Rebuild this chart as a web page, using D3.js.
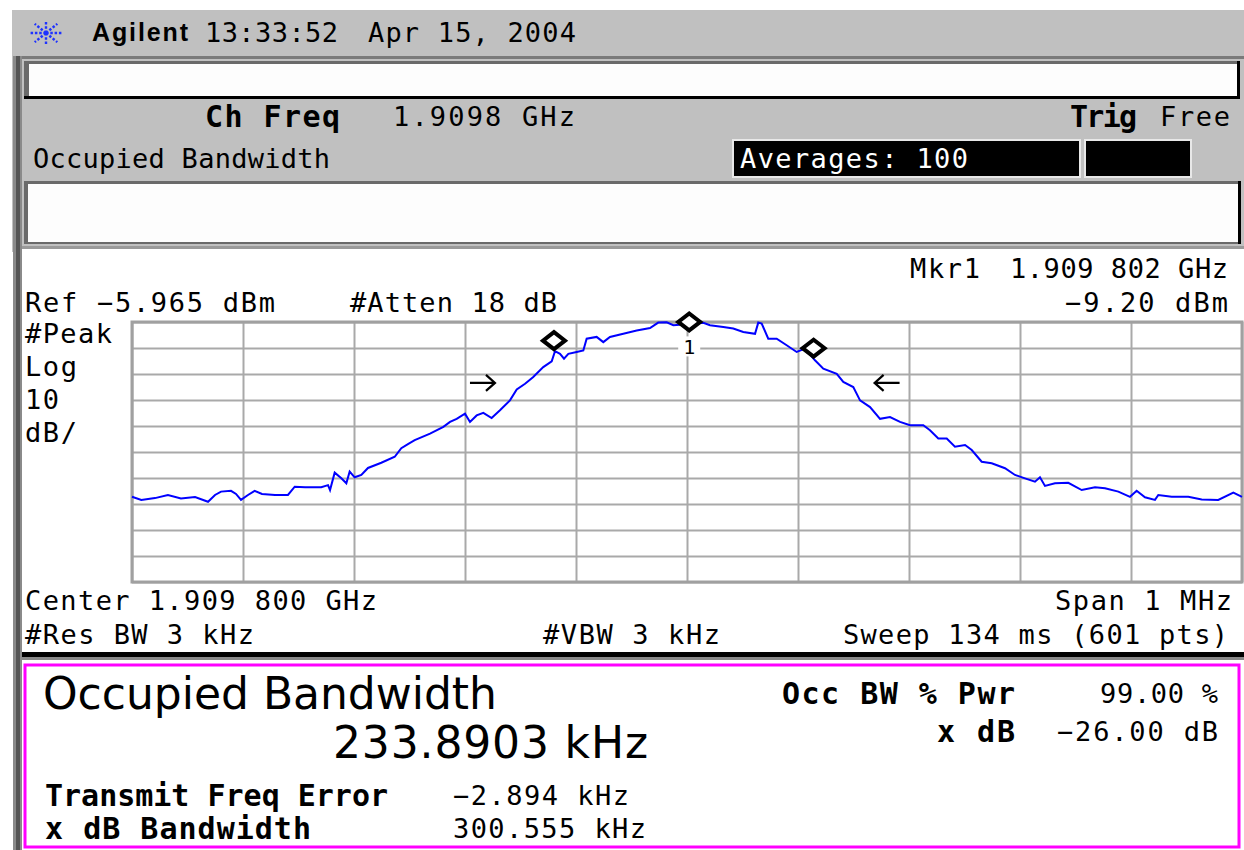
<!DOCTYPE html>
<html><head><meta charset="utf-8">
<script src="https://cdn.jsdelivr.net/npm/d3@7"></script>
<style>html,body{margin:0;padding:0;background:#fff;overflow:hidden}</style>
</head><body><svg id="c" width="1244" height="850"></svg>
<script>
// ---------------- data ----------------
const refLevelDbm = -5.965;
const dbPerDiv = 10;
const xGridKHz = [-500, -400, -300, -200, -100, 0, 100, 200, 300, 400, 500];
const yGridDbm = [-5.965, -15.965, -25.965, -35.965, -45.965, -55.965, -65.965, -75.965, -85.965, -95.965, -105.965];
const traceFreqKHz = [-500,-491.6,-479.3,-467.6,-455.9,-443.2,-431.5,-425.2,-419.8,-410.8,-406.3,-401.8,-395.5,-389.5,-382.9,-371.2,-359.5,-353.4,-344.1,-329.5,-323.4,-321.6,-317.4,-311.4,-306.9,-303.9,-299.4,-293.4,-287.4,-275.4,-263.3,-257.4,-251.4,-245.3,-231.5,-219.5,-213.5,-207.5,-200,-195.5,-189.5,-183.5,-176,-168.5,-159.5,-153.4,-145.9,-138.5,-129.5,-121.9,-118.9,-114.4,-110.8,-106.9,-99.4,-93.4,-90.4,-81.4,-75.4,-69.4,-57.4,-45.3,-33.3,-25.9,-18.3,-12.3,-0.3,2.7,8.7,14.7,20.7,32.7,41.7,50.7,61.3,64.2,67.3,73.2,80.8,89.8,98.8,106.3,115.3,122.8,134.9,140.8,149.8,155.9,164.9,173.9,182.9,191.9,200.9,212.9,218.9,226.4,234,241.4,250.5,256.5,265.5,274.5,286.5,295.5,304.5,313.5,318,322.5,331.5,343.5,355.6,367.6,376.6,388.6,399.1,405.1,412.6,421.6,424.6,436.7,451.6,463.7,478.6,492.2,500];
const traceDbm = [-73.2,-74.4,-73.7,-72.5,-73.8,-73.3,-75.1,-72.5,-71.2,-70.9,-72.1,-74.4,-72.5,-70.9,-72.1,-72.5,-72.5,-69.3,-69.5,-69.5,-68.7,-70.6,-63.9,-66.1,-68.0,-63.5,-65.7,-64.8,-62.1,-60.1,-57.8,-54.5,-52.9,-51.4,-48.9,-46.3,-44.4,-43.2,-41.2,-44.4,-41.9,-40.9,-42.9,-39.9,-36.1,-31.9,-29.7,-27.1,-23.3,-21.1,-17.2,-18.2,-20.1,-18.2,-17.5,-16.9,-12.4,-11.7,-13.7,-11.7,-10.5,-9.2,-8.3,-6.2,-6.1,-7.2,-6.8,-6.8,-6.5,-6.3,-7.2,-7.9,-8.5,-9.8,-10.5,-6.2,-6.6,-12.4,-12.4,-14.9,-17.5,-16.2,-20.7,-23.9,-25.9,-29.0,-31.0,-36.1,-38.7,-43.2,-42.5,-44.4,-45.7,-45.7,-47.6,-50.8,-50.8,-53.9,-53.3,-55.2,-59.7,-60.3,-62.2,-64.8,-66.1,-67.4,-65.7,-69.0,-68.0,-67.8,-70.6,-69.5,-69.9,-71.2,-73.2,-70.9,-73.4,-74.4,-72.5,-73.2,-73.2,-74.2,-74.4,-71.6,-73.2];
const markerFreqKHz = [-119.84, 2, 114.05];
const markerDbm = [-16.4, -9.2, -19.3];
const markerLabels = ["", "1", ""];
const arrowFreqKHz = [-173, 169];
const arrowDbm = [-29.4, -29.4];
const arrowDir = [1, -1];

// ---------------- drawing ----------------
const svg = d3.select("#c");
const MONO = "'DejaVu Sans Mono', monospace";
const SANS = "'DejaVu Sans', sans-serif";

function txt(str, x, yc, o = {}) {
  const size = o.size || 26;
  const t = svg.append("text")
    .attr("x", x)
    .attr("y", yc + 0.365 * size)
    .attr("font-family", o.family || MONO)
    .attr("font-size", size)
    .attr("font-weight", o.weight || "normal")
    .attr("fill", o.fill || "#000")
    .attr("text-anchor", o.anchor || "start")
    .text(str);
  if (o.len) t.attr("textLength", o.len).attr("lengthAdjust", o.adj || "spacing");
  return t;
}

svg.append("rect").attr("width", 1244).attr("height", 850).attr("fill", "#fff");

// gray instrument header panel
svg.append("rect").attr("x", 12).attr("y", 10).attr("width", 1232).attr("height", 242).attr("fill", "#c0c0c0");
// frame lines
svg.append("rect").attr("x", 13).attr("y", 56).attr("width", 1231).attr("height", 3).attr("fill", "#7a7a7a");
svg.append("rect").attr("x", 13).attr("y", 56).attr("width", 9).attr("height", 794).attr("fill", "#8a8a8a");
svg.append("rect").attr("x", 16).attr("y", 56).attr("width", 4).attr("height", 794).attr("fill", "#555");

// white box 1
svg.append("rect").attr("x", 24).attr("y", 61).attr("width", 1216).attr("height", 38).attr("fill", "#000");
svg.append("rect").attr("x", 24).attr("y", 61).attr("width", 1213).attr("height", 35).attr("fill", "#6a6a6a");
svg.append("rect").attr("x", 29).attr("y", 64).attr("width", 1208).attr("height", 32).attr("fill", "#fdfdfd");

// white box 2
svg.append("rect").attr("x", 24).attr("y", 181).attr("width", 1216).attr("height", 63).attr("fill", "#6a6a6a");
svg.append("rect").attr("x", 28).attr("y", 184).attr("width", 1211).attr("height", 58).attr("fill", "#fdfdfd");
svg.append("rect").attr("x", 1238).attr("y", 181).attr("width", 3).attr("height", 63).attr("fill", "#000");

// plot panel background
svg.append("rect").attr("x", 22).attr("y", 248).attr("width", 1222).attr("height", 405).attr("fill", "#fff");
svg.append("rect").attr("x", 22).attr("y", 246).attr("width", 1222).attr("height", 3).attr("fill", "#9a9a9a");
// thick black separator
svg.append("rect").attr("x", 22).attr("y", 652).attr("width", 1222).attr("height", 5).attr("fill", "#000");
svg.append("rect").attr("x", 22).attr("y", 657).attr("width", 1222).attr("height", 3).attr("fill", "#888");

// Agilent logo
const logo = svg.append("g").attr("transform", "translate(46,33)");
d3.range(0, 8).forEach(i => {
  const a = i * Math.PI / 4;
  logo.append("line").attr("x1", 0).attr("y1", 0)
    .attr("x2", 16 * Math.cos(a)).attr("y2", 13 * Math.sin(a))
    .attr("stroke", "#1e32ff").attr("stroke-width", 2.4).attr("stroke-dasharray", "2.5,1.8");
});
txt("Agilent", 92, 32, {family: "'Liberation Sans', Arial, sans-serif", weight: "bold", size: 25, len: 96});
txt("13:33:52", 205, 32, {size: 27, len: 133});
txt("Apr 15, 2004", 368, 32, {size: 27, len: 208});

txt("Ch Freq", 205, 116, {weight: "bold", size: 30, len: 135});
txt("1.9098 GHz", 393, 116, {size: 27, len: 182});
txt("Trig", 1070, 116, {weight: "bold", size: 30, len: 67});
txt("Free", 1160, 116, {size: 27, len: 70});
txt("Occupied Bandwidth", 33, 158, {size: 27, len: 297});

svg.append("rect").attr("x", 732).attr("y", 139).attr("width", 349).attr("height", 39).attr("fill", "#e8e8e8");
svg.append("rect").attr("x", 734).attr("y", 141).attr("width", 345).attr("height", 35).attr("fill", "#000");
svg.append("rect").attr("x", 1084).attr("y", 139).attr("width", 108).attr("height", 39).attr("fill", "#e8e8e8");
svg.append("rect").attr("x", 1086).attr("y", 141).attr("width", 104).attr("height", 35).attr("fill", "#000");
txt("Averages: 100", 740, 158, {fill: "#fff", size: 27, len: 228});

// plot annotations
txt("Mkr1", 910, 268, {size: 27, len: 70});
txt("1.909 802 GHz", 1010, 268, {size: 27, len: 218});
txt("Ref \u22125.965 dBm", 25, 302, {size: 27, len: 250});
txt("#Atten 18 dB", 350, 302, {size: 27, len: 207});
txt("\u22129.20 dBm", 1228, 302, {anchor: "end", size: 27, len: 163});
txt("#Peak", 25, 333, {size: 27, len: 87});
txt("Log", 25, 366, {size: 27, len: 52});
txt("10", 25, 399, {size: 27, len: 34});
txt("dB/", 25, 432, {size: 27, len: 52});
txt("Center 1.909 800 GHz", 25, 600, {size: 27, len: 352});
txt("Span 1 MHz", 1232, 600, {anchor: "end", size: 27, len: 177});
txt("#Res BW 3 kHz", 25, 634, {size: 27, len: 229});
txt("#VBW 3 kHz", 543, 634, {size: 27, len: 177});
txt("Sweep 134 ms (601 pts)", 1228, 634, {anchor: "end", size: 27, len: 385});

// ---------------- graticule ----------------
const x = d3.scaleLinear().domain([-500, 500]).range([132, 1242]);
const y = d3.scaleLinear().domain([yGridDbm[yGridDbm.length - 1], refLevelDbm]).range([582, 322]);
const plotH = y.range()[0] - y.range()[1];
const plotW = x.range()[1] - x.range()[0];

const gx = svg.append("g").attr("transform", `translate(0,${y.range()[0]})`)
  .call(d3.axisBottom(x).tickValues(xGridKHz).tickSize(-plotH).tickFormat(""));
const gy = svg.append("g").attr("transform", `translate(${x.range()[0]},0)`)
  .call(d3.axisLeft(y).tickValues(yGridDbm).tickSize(-plotW).tickFormat(""));
[gx, gy].forEach(g => {
  g.select(".domain").remove();
  g.selectAll(".tick line").attr("stroke", "#a9a9a9").attr("stroke-width", 2);
});
svg.append("rect").attr("x", x.range()[0]).attr("y", y.range()[1]).attr("width", plotW).attr("height", plotH)
  .attr("fill", "none").attr("stroke", "#a0a0a0").attr("stroke-width", 3);

// ---------------- trace ----------------
const pts = d3.zip(traceFreqKHz, traceDbm);
svg.append("path").datum(pts)
  .attr("d", d3.line().x(d => x(d[0])).y(d => y(d[1])))
  .attr("fill", "none").attr("stroke", "#0000ff").attr("stroke-width", 2).attr("stroke-linejoin", "miter");

// ---------------- markers ----------------
const mk = d3.zip(markerFreqKHz, markerDbm, markerLabels);
mk.forEach(([f, a, lab]) => {
  const cx = x(f), by = y(a);
  const hw = 11, hh = 8.5;
  svg.append("path")
    .attr("d", `M${cx},${by} L${cx + hw},${by - hh} L${cx},${by - 2 * hh} L${cx - hw},${by - hh} Z`)
    .attr("fill", "#fff").attr("stroke", "#000").attr("stroke-width", 4);
  if (lab) {
    svg.append("rect").attr("x", cx - 11).attr("y", by + 6).attr("width", 22).attr("height", 20).attr("fill", "#fff");
    txt(lab, cx, by + 16, {size: 20, anchor: "middle"});
  }
});

// ---------------- x dB arrows ----------------
d3.zip(arrowFreqKHz, arrowDbm, arrowDir).forEach(([f, a, dir]) => {
  const tx = x(f), ty = y(a);
  const tail = tx - dir * 25;
  svg.append("path")
    .attr("d", `M${tail},${ty} L${tx},${ty} M${tx - dir * 9},${ty - 8} L${tx},${ty} L${tx - dir * 9},${ty + 8}`)
    .attr("fill", "none").attr("stroke", "#000").attr("stroke-width", 2.2);
});

// ---------------- results panel ----------------
svg.append("rect").attr("x", 25).attr("y", 665).attr("width", 1214).attr("height", 182)
  .attr("fill", "#fff").attr("stroke", "#ff00ff").attr("stroke-width", 3);
txt("Occupied Bandwidth", 43, 693, {family: SANS, size: 44, len: 454});
txt("233.8903 kHz", 333, 742, {family: SANS, size: 44, len: 315});
txt("Transmit Freq Error", 45, 795, {weight: "bold", size: 30, len: 343});
txt("x dB Bandwidth", 45, 828, {weight: "bold", size: 30, len: 266});
txt("\u22122.894 kHz", 453, 795, {size: 27, len: 176});
txt("300.555 kHz", 453, 828, {size: 27, len: 193});
txt("Occ BW % Pwr", 782, 693, {weight: "bold", size: 30, len: 233});
txt("99.00 %", 1218, 693, {anchor: "end", size: 27, len: 118});
txt("x dB", 1015, 731, {weight: "bold", size: 30, anchor: "end", len: 78});
txt("\u221226.00 dB", 1218, 731, {anchor: "end", size: 27, len: 161});
</script></body></html>
